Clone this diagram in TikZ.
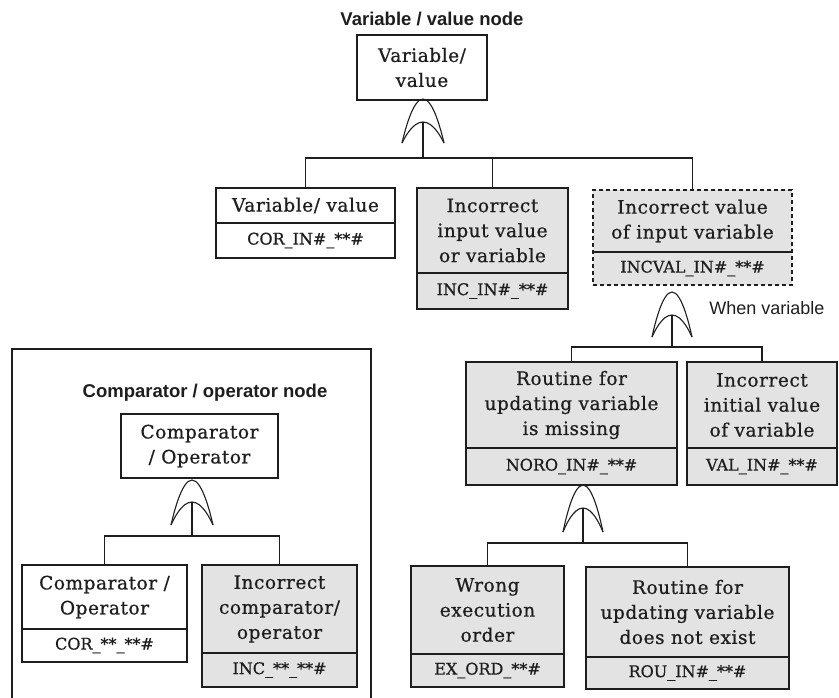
\documentclass[tikz,border=0pt]{standalone}
\usepackage{fontspec}
\setmainfont{DejaVu Serif}
\newfontfamily\boxfont[FakeBold=0.7, LetterSpace=3]{DejaVu Serif}
\newfontfamily\codefont[FakeBold=0.7]{DejaVu Serif}
\newfontfamily\titlefont{Liberation Sans}
\definecolor{boxgray}{HTML}{E3E3E3}
\definecolor{ink}{HTML}{1E1E1E}
\tikzset{
  frame/.style={draw=ink, line width=1.2pt},
  plainbox/.style={frame, fill=white},
  graybox/.style={frame, fill=boxgray},
  dashbox/.style={draw=ink, line width=1.2pt, dash pattern=on 4pt off 3pt, fill=boxgray},
  divider/.style={draw=ink, line width=1.2pt},
  boxtext/.style={align=center, font=\boxfont\fontsize{18.5}{25}\selectfont, text=ink, inner sep=0},
  codetext/.style={font=\codefont\fontsize{16}{20}\selectfont, text=ink, inner sep=0},
  wire/.style={draw=ink, line width=1.2pt},
  gateline/.style={draw=ink, line width=1.1pt},
  titletext/.style={font=\titlefont\bfseries\fontsize{18.5}{22}\selectfont, text=ink, inner sep=0, anchor=base},
  notetext/.style={font=\titlefont\fontsize{18}{22}\selectfont, text=ink, inner sep=0, anchor=base},
}
% name, x1, y1, x2, y2, ydiv, style, text, code
\newcommand\fbx[9]{%
  \node[#7, inner sep=0, minimum width={(#4-#2)*1pt}, minimum height={(#5-#3)*1pt}] (#1) at ({(#2+#4)/2},{(#3+#5)/2}) {};
  \draw[divider] (#2,#6) -- (#4,#6);
  \node[boxtext] (#1-t) at ({(#2+#4)/2},{(#3+#6)/2}) {#8};
  \node[codetext] (#1-c) at ({(#2+#4)/2},{(#6+#5)/2}) {#9};
}
% name, x, ytop, ybot, halfwidth, yinner, ybar
\newcommand\orgate[7]{%
  \draw[gateline] ({#2-#5},#4) parabola bend (#2,#3) ({#2+#5},#4);
  \draw[gateline] ({#2-#5},#4) parabola bend (#2,#6) ({#2+#5},#4);
  \coordinate (#1) at (#2,#6);
  \coordinate (#1-j) at (#2,#7);
}
\begin{document}
\begin{tikzpicture}[x=1pt, y=-1pt]
\useasboundingbox[fill=white] (0,0) rectangle (839,697);

% ---------- Variable / value node ----------
\node[titletext] (title1) at (432,25) {Variable / value node};
\node[plainbox, boxtext, minimum width=130pt, minimum height=65pt] (top) at (422,67.5) {Variable/\\value};
\orgate{g1}{423}{99}{143}{21}{122}{158}
\fbx{b1}{216}{188}{395}{258}{223}{plainbox}{Variable/ value}{COR\_IN\#\_**\#}
\fbx{b2}{417}{188}{568}{309}{273}{graybox}{Incorrect\\input value\\or variable}{INC\_IN\#\_**\#}
\fbx{b3}{593}{190}{792}{285}{252}{dashbox}{Incorrect value\\of input variable}{INCVAL\_IN\#\_**\#}
\draw[wire] (g1) -- (g1-j);
\draw[wire] (b1.north) |- (g1-j) -| (b3.north);
\draw[wire] (b2.north) -- (b2.north |- g1-j);

% ---------- When variable ----------
\node[notetext] (when) at (767,314) {When variable};
\orgate{g2}{672}{292}{337}{20}{315}{347}
\fbx{b4}{466}{362}{677}{485}{448}{graybox}{Routine for\\updating variable\\is missing}{NORO\_IN\#\_**\#}
\fbx{b5}{687}{362}{837}{485}{448}{graybox}{Incorrect\\initial value\\of variable}{VAL\_IN\#\_**\#}
\draw[wire] (g2) -- (g2-j);
\draw[wire] (b4.north) |- (g2-j) -| (b5.north);

\orgate{g3}{583}{485}{532}{20}{508}{543}
\fbx{b6}{411}{566}{564}{687}{654}{graybox}{Wrong\\execution\\order}{EX\_ORD\_**\#}
\fbx{b7}{586}{567}{789}{689}{657}{graybox}{Routine for\\updating variable\\does not exist}{ROU\_IN\#\_**\#}
\draw[wire] (g3) -- (g3-j);
\draw[wire] (b6.north) |- (g3-j) -| (b7.north);

% ---------- Comparator / operator node ----------
\draw[frame] (12,705) -- (12,349) -- (371,349) -- (371,705);
\node[titletext] (title2) at (205,397) {Comparator / operator node};
\node[plainbox, boxtext, minimum width=157pt, minimum height=64pt] (ctop) at (199.5,446) {Comparator\\/ Operator};
\orgate{g4}{192}{480}{525}{21}{502}{536}
\fbx{c1}{22}{565}{187}{662}{629}{plainbox}{Comparator /\\Operator}{COR\_**\_**\#}
\fbx{c2}{202}{565}{357}{687}{653}{graybox}{Incorrect\\comparator/\\operator}{INC\_**\_**\#}
\draw[wire] (g4) -- (g4-j);
\draw[wire] (c1.north) |- (g4-j) -| (c2.north);
\end{tikzpicture}
\end{document}
